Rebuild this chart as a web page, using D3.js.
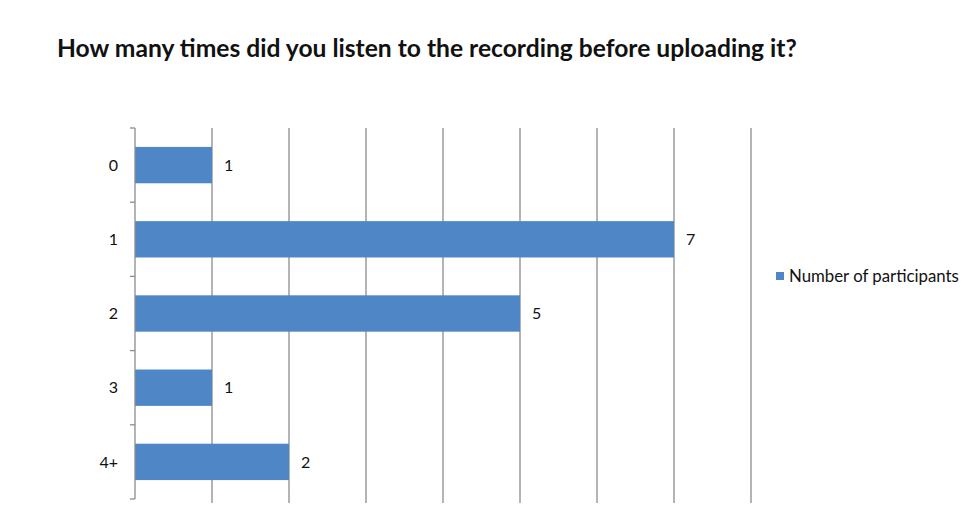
<!DOCTYPE html>
<html>
<head>
<meta charset="utf-8">
<script src="https://cdn.jsdelivr.net/npm/d3@7"></script>
<style>
  body { margin: 0; background: #fff; }
  svg { display: block; font-family: Lato, "Open Sans", sans-serif; }
</style>
</head>
<body>
<svg id="chart" width="964" height="531"></svg>
<script>
var categories = ["0", "1", "2", "3", "4+"];
var participants = [1, 7, 5, 1, 2];
var xTicks = [0, 1, 2, 3, 4, 5, 6, 7, 8];
var seriesName = "Number of participants";
var title = "How many times did you listen to the recording before uploading it?";

var svg = d3.select("#chart");
var barColor = "#4f86c5";

var x = d3.scaleLinear().domain([0, 8]).range([135, 751]);
var y = d3.scaleBand().domain(categories).range([128, 499]).paddingInner(0.51).paddingOuter(0.255);
var band = d3.scaleBand().domain(categories).range([128, 499]);

// title, sized so it spans like the original
var t = svg.append("text")
    .attr("x", 57).attr("y", 57)
    .attr("font-weight", "bold")
    .attr("font-size", 20)
    .attr("fill", "#111")
    .text(title);
var w = t.node().getComputedTextLength();
t.attr("font-size", 20 * 740 / w);

// vertical gridlines
svg.append("g")
    .selectAll("line")
    .data(xTicks.slice(1))
    .enter().append("line")
    .attr("x1", function(d) { return x(d); })
    .attr("x2", function(d) { return x(d); })
    .attr("y1", 128)
    .attr("y2", 503)
    .attr("stroke", "#8c8c8c")
    .attr("stroke-width", 1.3);

// bars
svg.append("g")
    .selectAll("rect")
    .data(participants)
    .enter().append("rect")
    .attr("x", x(0))
    .attr("y", function(d, i) { return y(categories[i]); })
    .attr("width", function(d) { return x(d) - x(0); })
    .attr("height", y.bandwidth())
    .attr("fill", barColor);

// value labels
svg.append("g")
    .selectAll("text")
    .data(participants)
    .enter().append("text")
    .attr("x", function(d) { return x(d) + 12; })
    .attr("y", function(d, i) { return y(categories[i]) + y.bandwidth() / 2; })
    .attr("dy", "0.35em")
    .attr("font-size", 16)
    .attr("fill", "#111")
    .text(function(d) { return d; });

// category axis
var axis = svg.append("g").attr("transform", "translate(135,0)");
axis.append("line")
    .attr("x1", 0).attr("x2", 0)
    .attr("y1", 128).attr("y2", 499)
    .attr("stroke", "#8c8c8c").attr("stroke-width", 1.3);
var bounds = categories.map(function(c) { return band(c); }).concat([499]);
axis.selectAll("line.tick")
    .data(bounds)
    .enter().append("line")
    .attr("class", "tick")
    .attr("x1", -5).attr("x2", 0)
    .attr("y1", function(d) { return d; })
    .attr("y2", function(d) { return d; })
    .attr("stroke", "#8c8c8c").attr("stroke-width", 1.3);
axis.selectAll("text")
    .data(categories)
    .enter().append("text")
    .attr("x", -17)
    .attr("y", function(d) { return y(d) + y.bandwidth() / 2; })
    .attr("dy", "0.35em")
    .attr("text-anchor", "end")
    .attr("font-size", 16)
    .attr("fill", "#111")
    .text(function(d) { return d; });

// legend (kept just inside the right edge)
var legend = svg.append("g").attr("transform", "translate(776,276)");
legend.append("rect")
    .attr("x", 0).attr("y", -4)
    .attr("width", 8).attr("height", 8)
    .attr("fill", barColor);
var lt = legend.append("text")
    .attr("x", 13).attr("y", 0)
    .attr("dy", "0.35em")
    .attr("font-size", 16)
    .attr("fill", "#111")
    .text(seriesName);
var lw = lt.node().getComputedTextLength();
lt.attr("font-size", 16 * 170 / lw);
</script>
</body>
</html>
